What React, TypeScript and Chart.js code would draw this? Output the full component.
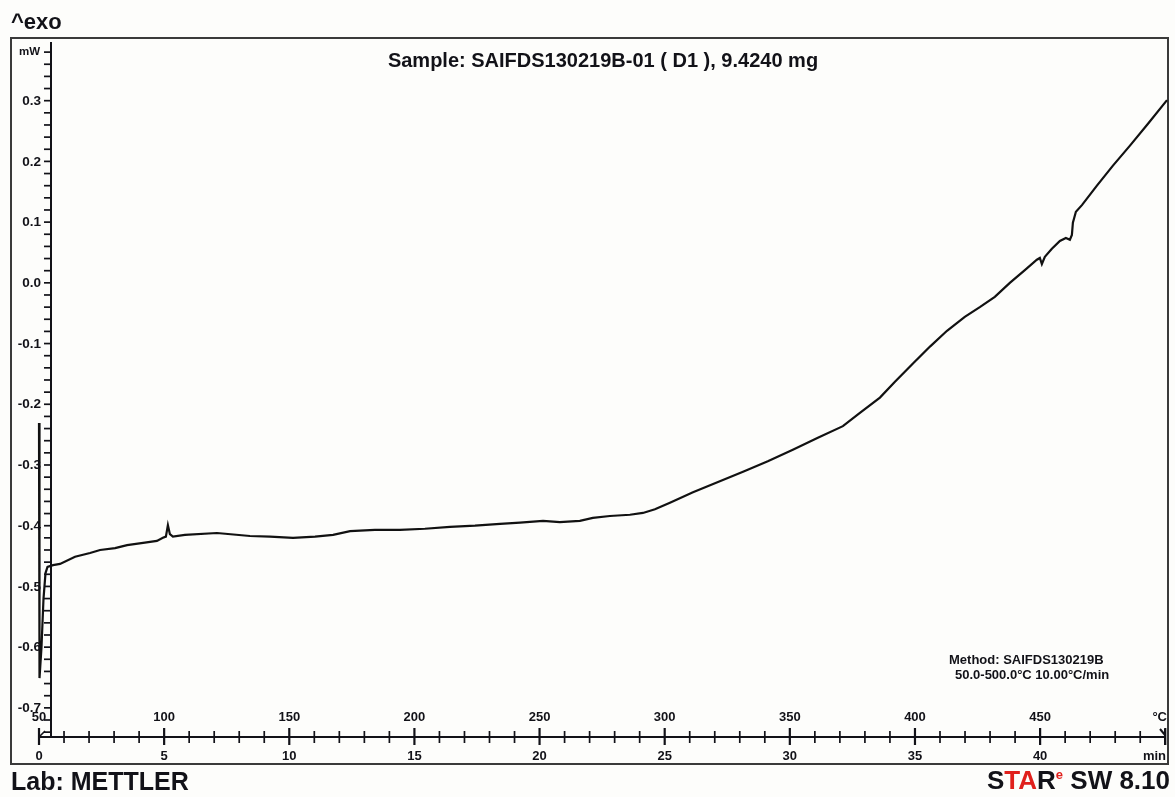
import React, { useEffect, useRef } from 'react';
import { Chart, registerables } from 'chart.js';

Chart.register(...registerables);

// ---- data (time in min, heat flow in mW) ----
const timeMin = [
  0.0, 0.02, 0.1, 0.18, 0.26, 0.34, 0.56, 0.84, 1.44, 2.04, 2.44, 3.04, 3.52, 4.23, 4.71, 4.95,
  5.07, 5.15, 5.23, 5.35, 5.83, 7.11, 8.43, 9.23, 10.15, 11.03, 11.75, 12.43, 13.42, 14.42, 15.42,
  16.42, 17.42, 18.42, 19.22, 20.14, 20.81, 21.61, 22.13, 22.81, 23.61, 24.13, 24.61, 25.21, 26.13,
  27.13, 28.13, 29.12, 30.12, 31.12, 32.12, 32.8, 33.6, 34.2, 34.92, 35.6, 36.28, 36.99, 37.59,
  38.19, 38.79, 39.39, 39.87, 39.99, 40.07, 40.19, 40.47, 40.79, 41.03, 41.19, 41.27, 41.31, 41.43,
  41.67, 42.27, 42.91, 43.59, 44.31, 45.07,
];
const heatFlow = [
  -0.231, -0.651, -0.6, -0.52, -0.478, -0.468, -0.465, -0.463, -0.451, -0.445, -0.44, -0.437, -0.432,
  -0.428, -0.425, -0.42, -0.418, -0.399, -0.414, -0.418, -0.415, -0.412, -0.417, -0.418, -0.42,
  -0.418, -0.415, -0.409, -0.407, -0.407, -0.405, -0.402, -0.4, -0.397, -0.395, -0.392, -0.394,
  -0.392, -0.387, -0.384, -0.382, -0.379, -0.373, -0.362, -0.345, -0.328, -0.311, -0.294, -0.275,
  -0.255, -0.236, -0.214, -0.189, -0.163, -0.133, -0.105, -0.079, -0.056, -0.04, -0.023, 0.0, 0.021,
  0.038, 0.041, 0.031, 0.043, 0.056, 0.069, 0.074, 0.071, 0.079, 0.099, 0.117, 0.128, 0.16, 0.193,
  0.226, 0.262, 0.301,
];

const yTickValues = [0.3, 0.2, 0.1, 0.0, -0.1, -0.2, -0.3, -0.4, -0.5, -0.6, -0.7];
const yTickLabels = ['0.3', '0.2', '0.1', '0.0', '-0.1', '-0.2', '-0.3', '-0.4', '-0.5', '-0.6', '-0.7'];
const timeTickValues = [0, 5, 10, 15, 20, 25, 30, 35, 40];
const timeTickLabels = ['0', '5', '10', '15', '20', '25', '30', '35', '40'];
const tempTickLabels = ['50', '100', '150', '200', '250', '300', '350', '400', '450'];
const yUnit = 'mW';
const tempUnit = '°C';
const timeUnit = 'min';
const titleText = 'Sample: SAIFDS130219B-01 ( D1 ), 9.4240 mg';
const methodLines = ['Method: SAIFDS130219B', '50.0-500.0°C 10.00°C/min'];
const exoText = '^exo';
const labText = 'Lab: METTLER';

const FONT = "'Liberation Sans', Arial, Helvetica, sans-serif";
const INK = '#121218';

const decorPlugin = {
  id: 'decor',
  beforeDraw(chart: any) {
    const ctx = chart.ctx as CanvasRenderingContext2D;
    ctx.save();
    ctx.fillStyle = '#fdfdfb';
    ctx.fillRect(0, 0, chart.width, chart.height);
    // outer frame
    ctx.strokeStyle = '#3a3a3a';
    ctx.lineWidth = 2;
    ctx.strokeRect(11, 38, 1157, 726);
    ctx.restore();
  },
  afterDraw(chart: any) {
    const ctx = chart.ctx as CanvasRenderingContext2D;
    const xs = chart.scales.x;
    const ys = chart.scales.y;
    const area = chart.chartArea;
    ctx.save();
    ctx.strokeStyle = INK;
    ctx.fillStyle = INK;

    // ---- y axis ----
    const yAxisX = 51;
    ctx.lineWidth = 2;
    ctx.beginPath();
    ctx.moveTo(yAxisX, 42);
    ctx.lineTo(yAxisX, area.bottom);
    ctx.stroke();
    ctx.lineWidth = 1.7;
    for (let k = -37; k <= 19; k++) {
      const v = k * 0.02;
      const py = ys.getPixelForValue(v);
      ctx.beginPath();
      ctx.moveTo(yAxisX - 7, py);
      ctx.lineTo(yAxisX, py);
      ctx.stroke();
    }
    ctx.font = `bold 13.5px ${FONT}`;
    ctx.textAlign = 'right';
    ctx.textBaseline = 'middle';
    yTickValues.forEach((v, i) => {
      ctx.fillText(yTickLabels[i], 41, ys.getPixelForValue(v) + 0.5);
    });
    ctx.font = `bold 11.5px ${FONT}`;
    ctx.fillText(yUnit, 40, ys.getPixelForValue(0.38));

    // ---- x axis ----
    const axY = area.bottom;
    ctx.lineWidth = 2;
    ctx.beginPath();
    ctx.moveTo(xs.getPixelForValue(0), axY);
    ctx.lineTo(area.right - 1, axY);
    ctx.stroke();
    for (let m = 0; m <= 45; m++) {
      const px = xs.getPixelForValue(m);
      const major = m % 5 === 0;
      ctx.lineWidth = major ? 2.2 : 1.7;
      ctx.beginPath();
      ctx.moveTo(px, axY - (major ? 9 : 6));
      ctx.lineTo(px, axY + (major ? 8 : 6));
      ctx.stroke();
    }
    // end marks
    ctx.lineWidth = 1.6;
    const x0 = xs.getPixelForValue(0);
    ctx.beginPath();
    ctx.moveTo(x0 + 6, axY - 6);
    ctx.lineTo(x0, axY);
    ctx.stroke();
    const xe = area.right - 2;
    ctx.lineWidth = 2;
    ctx.beginPath();
    ctx.moveTo(xe, axY - 8);
    ctx.lineTo(xe, axY + 8);
    ctx.moveTo(xe - 5, axY - 8);
    ctx.lineTo(xe, axY - 2);
    ctx.stroke();

    ctx.font = `bold 13px ${FONT}`;
    ctx.textAlign = 'center';
    ctx.textBaseline = 'alphabetic';
    timeTickValues.forEach((m, i) => {
      const px = xs.getPixelForValue(m);
      ctx.fillText(tempTickLabels[i], px, 721);
      ctx.fillText(timeTickLabels[i], px, 760);
    });
    ctx.textAlign = 'right';
    ctx.fillText(tempUnit, 1167, 721);
    ctx.fillText(timeUnit, 1166, 760);

    // ---- title ----
    ctx.textAlign = 'center';
    ctx.font = `bold 20px ${FONT}`;
    ctx.fillText(titleText, 603, 67);

    // ---- method ----
    ctx.textAlign = 'left';
    ctx.font = `bold 13px ${FONT}`;
    ctx.fillText(methodLines[0], 949, 664);
    ctx.fillText(methodLines[1], 955, 679);

    // ---- corner texts ----
    ctx.font = `bold 22px ${FONT}`;
    ctx.fillText(exoText, 11, 29);
    ctx.font = `bold 25px ${FONT}`;
    ctx.fillText(labText, 11, 790);

    // STAR SW 8.10 (right aligned at 1170)
    const parts: [string, string, string][] = [
      ['S', INK, `bold 26px ${FONT}`],
      ['TA', '#e0201c', `bold 26px ${FONT}`],
      ['R', INK, `bold 26px ${FONT}`],
      ['e', '#e0201c', `bold 13px ${FONT}`],
      [' SW 8.10', INK, `bold 26px ${FONT}`],
    ];
    let total = 0;
    parts.forEach(([t, , f]) => {
      ctx.font = f;
      total += ctx.measureText(t).width;
    });
    let cx = 1170 - total;
    parts.forEach(([t, c, f]) => {
      ctx.font = f;
      ctx.fillStyle = c;
      const sup = t === 'e';
      ctx.fillText(t, cx, sup ? 779 : 789);
      cx += ctx.measureText(t).width;
    });

    ctx.restore();
  },
};

export default function App() {
  const ref = useRef<HTMLCanvasElement | null>(null);
  useEffect(() => {
    if (!ref.current) return;
    const points = timeMin.map((t, i) => ({ x: t, y: heatFlow[i] }));
    const chart = new Chart(ref.current, {
      type: 'line',
      data: {
        datasets: [
          {
            data: points,
            borderColor: '#111111',
            borderWidth: 2.2,
            pointRadius: 0,
            tension: 0,
            fill: false,
            clip: false as any,
          },
        ],
      },
      options: {
        responsive: false,
        animation: false,
        layout: { padding: { left: 39, right: 8, top: 43, bottom: 60 } },
        scales: {
          x: { type: 'linear', min: 0, max: 45.07, display: false },
          y: { type: 'linear', min: -0.748, max: 0.395, display: false },
        },
        plugins: {
          legend: { display: false },
          tooltip: { enabled: false },
          title: { display: false },
        },
      },
      plugins: [decorPlugin],
    });
    return () => chart.destroy();
  }, []);
  return (
    <div style={{ position: 'absolute', left: 0, top: 0, width: 1175, height: 797 }}>
      <canvas ref={ref} width={1175} height={797} style={{ display: 'block' }} />
    </div>
  );
}
